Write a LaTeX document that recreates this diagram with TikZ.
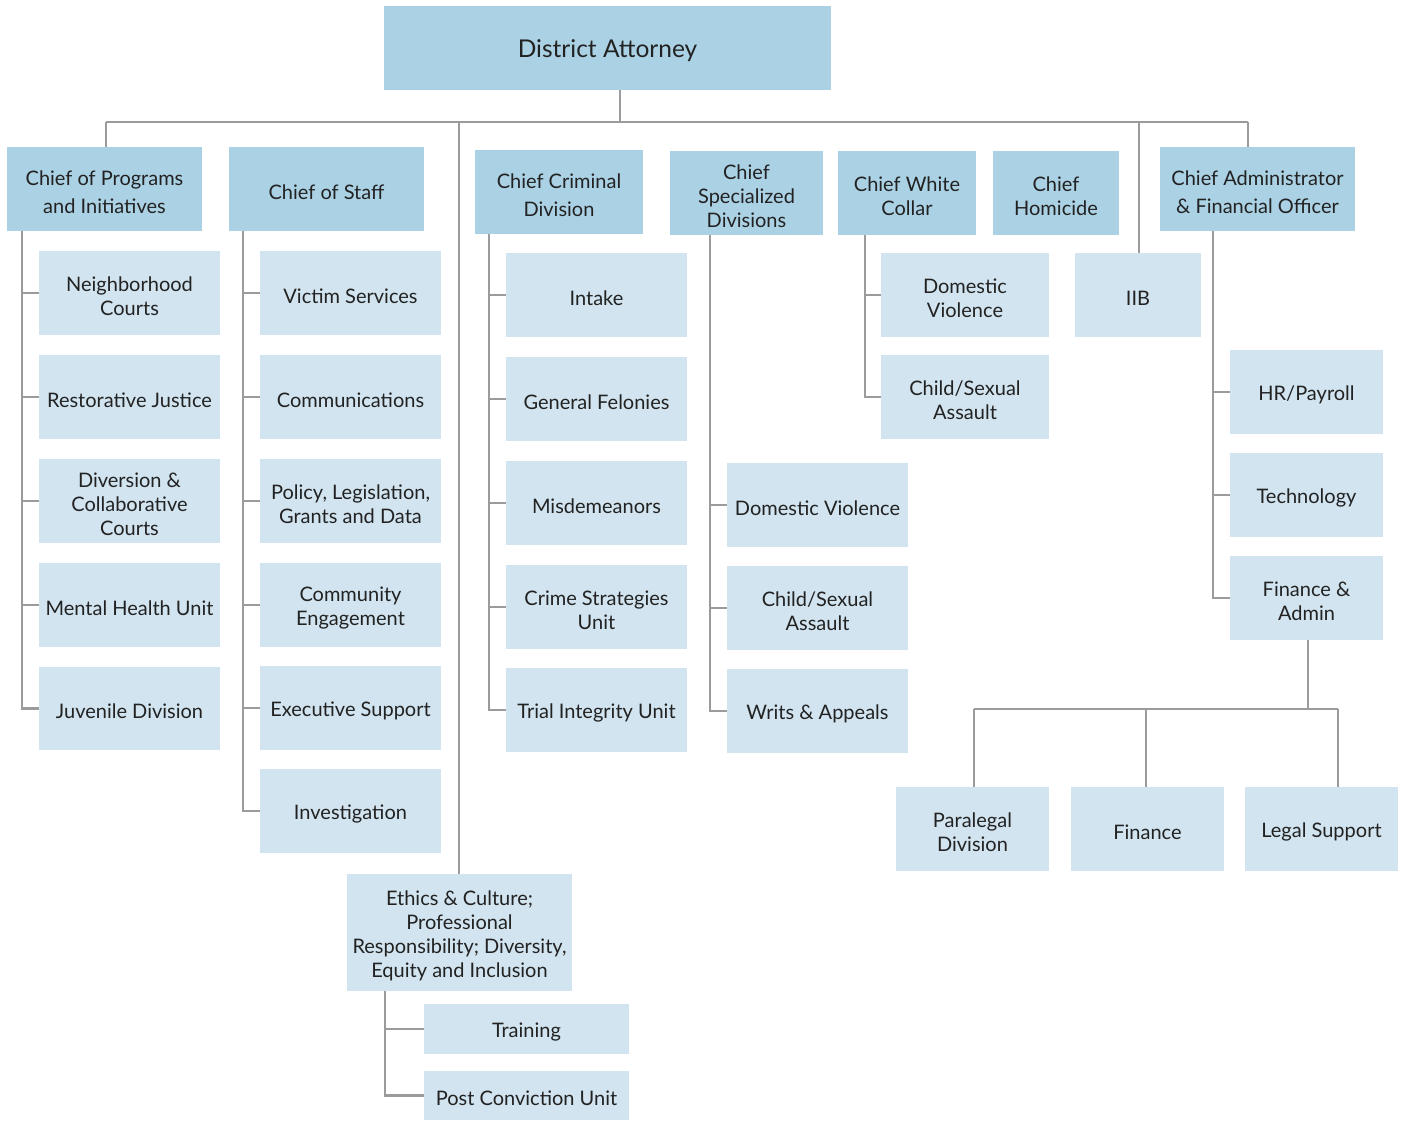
\documentclass[tikz,border=0pt]{standalone}
\usepackage{fontspec}
\setmainfont{Lato}
\usetikzlibrary{calc}
\definecolor{darkfill}{HTML}{ABD1E4}
\definecolor{lightfill}{HTML}{D1E4EF}
\definecolor{linegray}{HTML}{9B9B9E}
\definecolor{txt}{HTML}{222222}
\newcommand\bx[7]{%
  \node[#6, minimum width={#4-#2}, minimum height={#5-#3}] (#1) at ({(#2+#4)/2},{(#3+#5)/2}) {};
  \node[#6, fill=none, text=txt] (#1-t) at ($(#1.center)+(0,3)$) {#7};}
\tikzset{
  headbox/.style={fill=darkfill, align=center, inner sep=0pt, font=\fontsize{20}{24}\selectfont},
  subbox/.style={fill=lightfill, align=center, inner sep=0pt, font=\fontsize{20}{24}\selectfont},
  wide/.style={font=\fontsize{20}{28}\selectfont},
  topbox/.style={fill=darkfill, align=center, inner sep=0pt, font=\fontsize{24.5}{28}\selectfont},
  conn/.style={draw=linegray, line width=2.5pt}
}
\begin{document}
\begin{tikzpicture}[x=1pt,y=-1pt]
\useasboundingbox (0,0) rectangle (1401,1120);
% top
\bx{da}{384}{6}{831}{90}{topbox}{District Attorney}
% level 1
\bx{cpi}{7}{147}{202}{231}{headbox,wide}{Chief of Programs\\and Initiatives}
\bx{cos}{229}{147}{424}{231}{headbox}{Chief of Staff}
\bx{ccd}{475}{150}{643}{234}{headbox,wide}{Chief Criminal\\Division}
\bx{csd}{670}{151}{823}{235}{headbox}{Chief\\Specialized\\Divisions}
\bx{cwc}{838}{151}{976}{235}{headbox}{Chief White\\Collar}
\bx{chd}{993}{151}{1119}{235}{headbox}{Chief\\Homicide}
\bx{cafo}{1160}{147}{1355}{231}{headbox,wide}{Chief Administrator\\\& Financial Officer}
\bx{iib}{1075}{253}{1201}{337}{subbox}{IIB}
% programs column
\bx{nc}{39}{251}{220}{335}{subbox}{Neighborhood\\Courts}
\bx{rj}{39}{355}{220}{439}{subbox}{Restorative Justice}
\bx{dc}{39}{459}{220}{543}{subbox}{Diversion \&\\Collaborative\\Courts}
\bx{mh}{39}{563}{220}{647}{subbox}{Mental Health Unit}
\bx{jd}{39}{667}{220}{750}{subbox}{Juvenile Division}
% staff column
\bx{vs}{260}{251}{441}{335}{subbox}{Victim Services}
\bx{com}{260}{355}{441}{439}{subbox}{Communications}
\bx{pol}{260}{459}{441}{543}{subbox}{Policy, Legislation,\\Grants and Data}
\bx{ce}{260}{563}{441}{647}{subbox}{Community\\Engagement}
\bx{es}{260}{666}{441}{750}{subbox}{Executive Support}
\bx{inv}{260}{769}{441}{853}{subbox}{Investigation}
% criminal column
\bx{int}{506}{253}{687}{337}{subbox}{Intake}
\bx{gf}{506}{357}{687}{441}{subbox}{General Felonies}
\bx{mis}{506}{461}{687}{545}{subbox}{Misdemeanors}
\bx{csu}{506}{565}{687}{649}{subbox}{Crime Strategies\\Unit}
\bx{tiu}{506}{668}{687}{752}{subbox}{Trial Integrity Unit}
% specialized column
\bx{sdv}{727}{463}{908}{547}{subbox}{Domestic Violence}
\bx{ssa}{727}{566}{908}{650}{subbox}{Child/Sexual\\Assault}
\bx{wa}{727}{669}{908}{753}{subbox}{Writs \& Appeals}
% white collar column
\bx{wdv}{881}{253}{1049}{337}{subbox}{Domestic\\Violence}
\bx{wsa}{881}{355}{1049}{439}{subbox}{Child/Sexual\\Assault}
% admin column
\bx{hr}{1230}{350}{1383}{434}{subbox}{HR/Payroll}
\bx{tech}{1230}{453}{1383}{537}{subbox}{Technology}
\bx{fa}{1230}{556}{1383}{640}{subbox}{Finance \&\\Admin}
\bx{para}{896}{787}{1049}{871}{subbox}{Paralegal\\Division}
\bx{fin}{1071}{787}{1224}{871}{subbox}{Finance}
\bx{ls}{1245}{787}{1398}{871}{subbox}{Legal Support}
% ethics
\bx{eth}{347}{874}{572}{991}{subbox}{Ethics \& Culture;\\Professional\\Responsibility; Diversity,\\Equity and Inclusion}
\bx{tr}{424}{1004}{629}{1054}{subbox}{Training}
\bx{pcu}{424}{1071}{629}{1120}{subbox}{Post Conviction Unit}
% connectors
\coordinate (busL) at (106,122);
\coordinate (busR) at (1248,122);
\coordinate (busD) at (620,122);
\coordinate (busE) at (459,122);
\coordinate (busI) at (1139,122);
\draw[conn] (busD |- da.south) -- (busD);
\draw[conn] (busL) -- (busR);
\draw[conn] (busL) -- (busL |- cpi.north);
\draw[conn] (busR) -- (busR |- cafo.north);
\draw[conn] (busI) -- (busI |- iib.north);
\draw[conn] (busE) -- (busE |- eth.north);
% programs
\coordinate (cpiS) at (22,231);
\foreach \n in {nc,rj,dc,mh,jd} \draw[conn] (cpiS) |- (\n);
% staff
\coordinate (cosS) at (243,231);
\foreach \n in {vs,com,pol,ce,es,inv} \draw[conn] (cosS) |- (\n);
% criminal
\coordinate (ccdS) at (489,234);
\foreach \n in {int,gf,mis,csu,tiu} \draw[conn] (ccdS) |- (\n);
% specialized
\coordinate (csdS) at (710,235);
\foreach \n in {sdv,ssa,wa} \draw[conn] (csdS) |- (\n);
% white collar
\coordinate (cwcS) at (865,235);
\foreach \n in {wdv,wsa} \draw[conn] (cwcS) |- (\n);
% admin
\coordinate (cafoS) at (1213,231);
\foreach \n in {hr,tech,fa} \draw[conn] (cafoS) |- (\n);
% finance & admin children
\coordinate (faS) at (1308,640);
\coordinate (faBus) at (1308,709);
\draw[conn] (faS) -- (faBus);
\coordinate (paraT) at (974,709);
\coordinate (finT) at (1146,709);
\coordinate (lsT) at (1338,709);
\draw[conn] (paraT) -- (lsT);
\draw[conn] (paraT) -- (paraT |- para.north);
\draw[conn] (finT) -- (finT |- fin.north);
\draw[conn] (lsT) -- (lsT |- ls.north);
% ethics children
\coordinate (ethS) at (385,991);
\foreach \n in {tr,pcu} \draw[conn] (ethS) |- (\n);
\end{tikzpicture}
\end{document}
